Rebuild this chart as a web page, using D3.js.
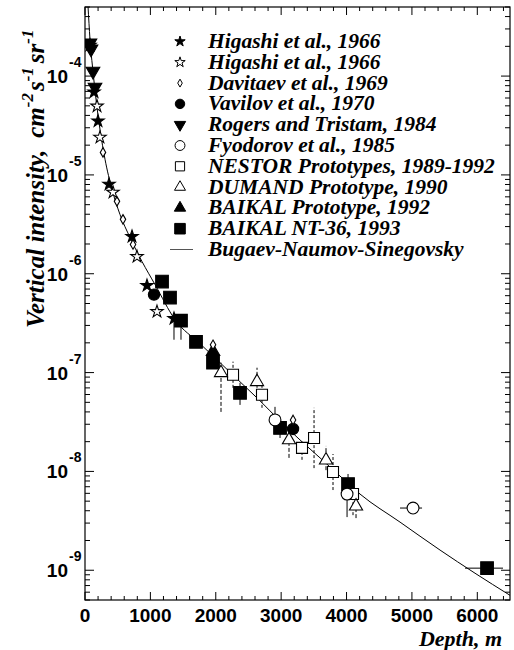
<!DOCTYPE html>
<html><head><meta charset="utf-8">
<script src="https://cdn.jsdelivr.net/npm/d3@7"></script>
<style>body{margin:0;background:#fff}</style>
</head><body><svg id="c" width="514" height="650"></svg>
<script>
// ---------------- DATA ----------------
const legendLabels = [
  "Higashi et al., 1966", "Higashi et al., 1966", "Davitaev et al., 1969",
  "Vavilov et al., 1970", "Rogers and Tristam, 1984", "Fyodorov et al., 1985",
  "NESTOR Prototypes, 1989-1992", "DUMAND Prototype, 1990",
  "BAIKAL Prototype, 1992", "BAIKAL NT-36, 1993", "Bugaev-Naumov-Sinegovsky"
];
const xTickValues = [0, 1000, 2000, 3000, 4000, 5000, 6000];
const yTickExponents = [-4, -5, -6, -7, -8, -9];
const xAxisTitle = "Depth, m";

// Higashi et al. 1966 (filled stars)
const higashiFDepth = [76, 138, 199, 367, 719, 948, 1361];
const higashiFInt   = [2.05e-4, 6.9e-5, 3.50e-5, 8.03e-6, 2.38e-6, 7.59e-7, 3.52e-7];
const higashiFLo    = [null, null, null, null, null, null, 2.15e-7];
const higashiFHi    = [null, null, null, null, null, null, null];
// Higashi et al. 1966 (open stars)
const higashiODepth = [184, 229, 428, 795, 1101];
const higashiOInt   = [4.96e-5, 2.40e-5, 6.67e-6, 1.49e-6, 4.14e-7];
// Davitaev et al. 1969 (open diamonds)
const davitaevDepth = [275, 489, 581, 734, 1958, 3182];
const davitaevInt   = [1.69e-5, 5.40e-6, 3.55e-6, 1.98e-6, 1.91e-7, 3.32e-8];
// Vavilov et al. 1970 (filled circles)
const vavilovDepth = [1055, 3182];
const vavilovInt   = [6.15e-7, 2.69e-8];
// Rogers and Tristam 1984 (filled down triangles)
const rogersDepth = [76, 92, 122, 153];
const rogersInt   = [2.16e-4, 1.88e-4, 1.12e-4, 7.73e-5];
// Fyodorov et al. 1985 (open circles)
const fyodorovDepth = [2906, 4008, 5017];
const fyodorovInt   = [3.32e-8, 5.90e-9, 4.26e-9];
const fyodorovLo    = [2.63e-8, 3.45e-9, null];
const fyodorovHi    = [4.50e-8, 6.79e-9, null];
const fyodorovXLo   = [null, null, 4818];
const fyodorovXHi   = [null, null, 5155];
// NESTOR prototypes 1989-1992 (open squares)
const nestorDepth = [2264, 2707, 3319, 3503, 3793, 4099];
const nestorInt   = [9.51e-8, 5.96e-8, 1.73e-8, 2.18e-8, 9.86e-9, 5.90e-9];
const nestorLo    = [7.01e-8, 4.40e-8, 1.31e-8, 1.08e-8, 6.48e-9, 3.61e-9];
const nestorHi    = [1.29e-7, 7.35e-8, 2.03e-8, 4.40e-8, 1.50e-8, 7.10e-9];
// DUMAND prototype 1990 (open triangles)
const dumandDepth = [2080, 2631, 3120, 3686, 4145];
const dumandInt   = [9.95e-8, 8.07e-8, 2.08e-8, 1.30e-8, 4.45e-9];
const dumandLo    = [4.00e-8, 5.30e-8, 1.37e-8, 1.03e-8, 3.37e-9];
const dumandHi    = [1.26e-7, 1.12e-7, 2.75e-8, 1.81e-8, 5.13e-9];
// BAIKAL prototype 1992 (filled triangles)
const baikalPDepth = [1958];
const baikalPInt   = [1.63e-7];
// BAIKAL NT-36 1993 (filled squares)
const nt36Depth = [1178, 1300, 1468, 1698, 1958, 2371, 2983, 4023, 6149];
const nt36Int   = [8.34e-7, 5.74e-7, 3.35e-7, 2.05e-7, 1.26e-7, 6.24e-8, 2.75e-8, 7.45e-9, 1.05e-9];
const nt36Lo    = [null, null, 2.15e-7, null, null, 4.71e-8, 2.18e-8, 5.13e-9, null];
const nt36Hi    = [null, null, null, null, null, 7.88e-8, 3.32e-8, 9.42e-9, null];
const nt36XLo   = [null, null, null, null, null, null, null, null, 5812];
const nt36XHi   = [null, null, null, null, null, null, null, null, 6393];
// Bugaev-Naumov-Sinegovsky curve
const curveDepth = [46, 76, 122, 168, 229, 306, 413, 535, 688, 872, 1071, 1377, 1759, 2065, 2371, 2677, 2983, 3289, 3595, 3900, 4206, 4818, 5430, 5965, 6501];
const curveInt   = [5.13e-4, 2.37e-4, 1.12e-4, 5.85e-5, 2.90e-5, 1.44e-5, 7.14e-6, 3.98e-6, 2.33e-6, 1.33e-6, 7.77e-7, 3.43e-7, 1.96e-7, 1.26e-7, 8.07e-8, 5.18e-8, 3.24e-8, 2.08e-8, 1.37e-8, 8.98e-9, 5.90e-9, 3.07e-9, 1.60e-9, 9.33e-10, 5.57e-10];

// ---------------- DRAWING ----------------
const svg = d3.select("#c");
const L = 85, R = 510, T = 7, B = 600;
const x = d3.scaleLinear().domain([0, 6500]).range([L, R]);
const y = d3.scaleLog().domain([5e-10, 5e-4]).range([B, T]);

const serif = "'Liberation Serif','Times New Roman',serif";
const sans = "'Liberation Sans',Arial,Helvetica,sans-serif";

const defs = svg.append("defs");
defs.append("clipPath").attr("id", "clip").append("rect")
  .attr("x", L).attr("y", T).attr("width", R - L).attr("height", B - T);

// frame
svg.append("rect").attr("x", L).attr("y", T).attr("width", R - L).attr("height", B - T)
  .attr("fill", "none").attr("stroke", "#000").attr("stroke-width", 1.2);

// ticks
const xMinor = d3.range(0, 6501, 200);
const tg = svg.append("g").attr("stroke", "#000").attr("stroke-width", 1);
xMinor.forEach(v => {
  const major = v % 1000 === 0;
  const len = major ? 8 : 4;
  tg.append("line").attr("x1", x(v)).attr("x2", x(v)).attr("y1", B).attr("y2", B - len);
  tg.append("line").attr("x1", x(v)).attr("x2", x(v)).attr("y1", T).attr("y2", T + len);
});
for (let e = -10; e <= -4; e++) {
  for (let m = 1; m <= 9; m++) {
    const v = m * Math.pow(10, e);
    if (v < 5e-10 || v > 5e-4) continue;
    const len = m === 1 ? 9 : 5;
    tg.append("line").attr("x1", L).attr("x2", L + len).attr("y1", y(v)).attr("y2", y(v));
    tg.append("line").attr("x1", R).attr("x2", R - len).attr("y1", y(v)).attr("y2", y(v));
  }
}

// x tick labels
svg.append("g").selectAll("text").data(xTickValues).join("text")
  .attr("x", d => x(d)).attr("y", 622).attr("text-anchor", "middle")
  .attr("font-family", sans).attr("font-weight", "bold").attr("font-size", 19)
  .text(d => d);

// y tick labels
const yl = svg.append("g").attr("font-family", sans).attr("font-weight", "bold");
yTickExponents.forEach(e => {
  const py = y(Math.pow(10, e));
  yl.append("text").attr("x", 68).attr("y", py + 7).attr("text-anchor", "end")
    .attr("font-size", 19).text("10");
  yl.append("text").attr("x", 69).attr("y", py - 9).attr("text-anchor", "start")
    .attr("font-size", 14).text(String(e));
});

// axis titles
svg.append("text").attr("x", 502).attr("y", 646).attr("text-anchor", "end")
  .attr("font-family", serif).attr("font-weight", "bold").attr("font-style", "italic")
  .attr("font-size", 22).text(xAxisTitle);

const yt = svg.append("text").attr("transform", "translate(44,328) rotate(-90)")
  .attr("font-family", serif).attr("font-weight", "bold").attr("font-style", "italic")
  .attr("font-size", 25);
yt.append("tspan").text("Vertical intensity,");
yt.append("tspan").attr("dx", 12).text("cm");
yt.append("tspan").attr("font-size", 17).attr("dy", -11).text("-2");
yt.append("tspan").attr("dy", 11).attr("dx", 2).text("s");
yt.append("tspan").attr("font-size", 17).attr("dy", -11).text("-1");
yt.append("tspan").attr("dy", 11).attr("dx", 4).text("sr");
yt.append("tspan").attr("font-size", 17).attr("dy", -11).text("-1");

// plot layer
const plot = svg.append("g").attr("clip-path", "url(#clip)");

// curve
const curvePts = curveDepth.map((d, i) => [d, curveInt[i]]);
plot.append("path").datum(curvePts)
  .attr("d", d3.line().x(d => x(d[0])).y(d => y(d[1])).curve(d3.curveMonotoneX))
  .attr("fill", "none").attr("stroke", "#000").attr("stroke-width", 1);

// error bars
function errBars(depth, val, lo, hi, xlo, xhi, dash) {
  const g = plot.append("g").attr("stroke", "#000").attr("stroke-width", 1)
    .attr("stroke-dasharray", dash || null);
  depth.forEach((d, i) => {
    if (lo && (lo[i] != null || (hi && hi[i] != null))) {
      const a = lo[i] != null ? lo[i] : val[i];
      const b = hi && hi[i] != null ? hi[i] : val[i];
      g.append("line").attr("x1", x(d)).attr("x2", x(d)).attr("y1", y(a)).attr("y2", y(b));
    }
    if (xlo && xlo[i] != null) {
      g.append("line").attr("x1", x(xlo[i])).attr("x2", x(xhi[i])).attr("y1", y(val[i])).attr("y2", y(val[i]));
    }
  });
}
errBars(higashiFDepth, higashiFInt, higashiFLo, higashiFHi);
errBars(fyodorovDepth, fyodorovInt, fyodorovLo, fyodorovHi, fyodorovXLo, fyodorovXHi);
errBars(nestorDepth, nestorInt, nestorLo, nestorHi, null, null, "3,2");
errBars(dumandDepth, dumandInt, dumandLo, dumandHi, null, null, "4,2");
errBars(nt36Depth, nt36Int, nt36Lo, nt36Hi, nt36XLo, nt36XHi);

// symbol styles
const styles = [
  {type: d3.symbolStar, size: 48, fill: "#000", rot: 0},
  {type: d3.symbolStar, size: 48, fill: "#fff", rot: 0},
  {type: d3.symbolDiamond, size: 26, fill: "#fff", rot: 0},
  {type: d3.symbolCircle, size: 100, fill: "#000", rot: 0},
  {type: d3.symbolTriangle, size: 80, fill: "#000", rot: 180},
  {type: d3.symbolCircle, size: 110, fill: "#fff", rot: 0},
  {type: d3.symbolSquare, size: 121, fill: "#fff", rot: 0},
  {type: d3.symbolTriangle, size: 75, fill: "#fff", rot: 0},
  {type: d3.symbolTriangle, size: 80, fill: "#000", rot: 0},
  {type: d3.symbolSquare, size: 160, fill: "#000", rot: 0}
];
const seriesData = [
  [higashiFDepth, higashiFInt], [higashiODepth, higashiOInt], [davitaevDepth, davitaevInt],
  [vavilovDepth, vavilovInt], [rogersDepth, rogersInt], [fyodorovDepth, fyodorovInt],
  [nestorDepth, nestorInt], [dumandDepth, dumandInt], [baikalPDepth, baikalPInt],
  [nt36Depth, nt36Int]
];
const drawOrder = [9, 8, 3, 6, 7, 5, 2, 1, 0, 4];
drawOrder.forEach(si => {
  const st = styles[si];
  const [dep, val] = seriesData[si];
  const gen = d3.symbol().type(st.type).size(st.size);
  plot.append("g").selectAll("path").data(dep.map((d, i) => [d, val[i]])).join("path")
    .attr("d", gen)
    .attr("transform", d => `translate(${x(d[0])},${y(d[1])}) rotate(${st.rot})`)
    .attr("fill", st.fill).attr("stroke", "#000").attr("stroke-width", 1.1);
});

// legend
const lg = svg.append("g");
const rowY0 = 48, rowDy = 20.8;
legendLabels.forEach((lab, i) => {
  const by = rowY0 + i * rowDy;
  const cy = by - 6.5;
  if (i < styles.length) {
    const st = styles[i];
    lg.append("path").attr("d", d3.symbol().type(st.type).size(st.size * 0.7))
      .attr("transform", `translate(180,${cy}) rotate(${st.rot})`)
      .attr("fill", st.fill).attr("stroke", "#000").attr("stroke-width", 1);
  } else {
    lg.append("line").attr("x1", 170).attr("x2", 193).attr("y1", cy).attr("y2", cy)
      .attr("stroke", "#555").attr("stroke-width", 1);
  }
  lg.append("text").attr("x", 208).attr("y", by)
    .attr("font-family", serif).attr("font-weight", "bold").attr("font-style", "italic")
    .attr("font-size", 21.5).text(lab);
});
</script></body></html>
